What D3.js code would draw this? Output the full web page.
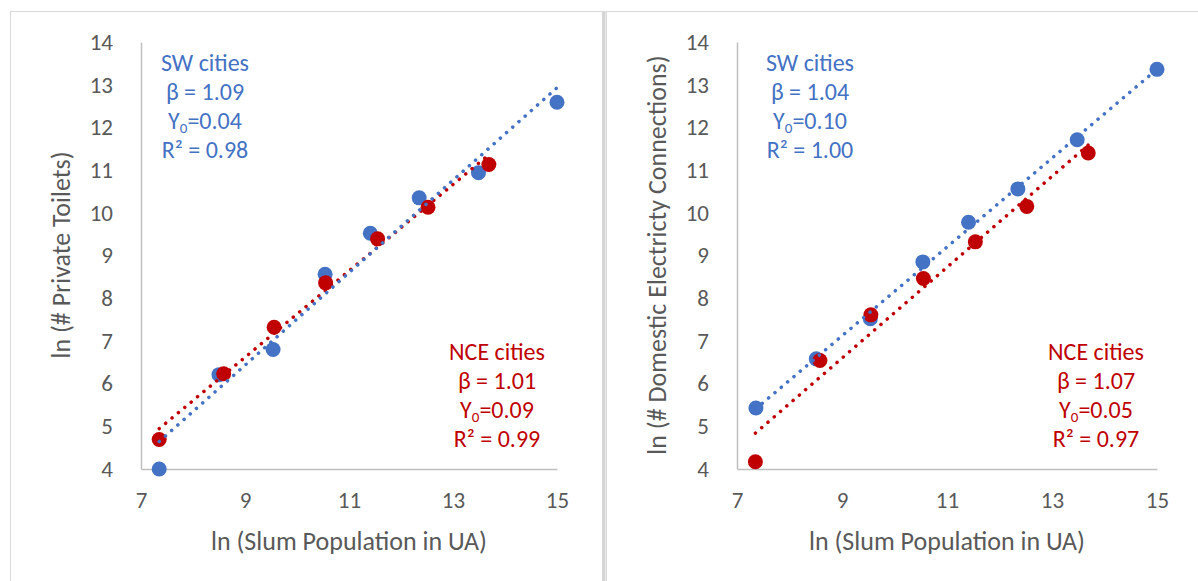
<!DOCTYPE html>
<html>
<head>
<meta charset="utf-8">
<script src="https://cdn.jsdelivr.net/npm/d3@7"></script>
<style>
  body { margin: 0; background: #fff; }
  text { font-family: Carlito, Calibri, Lato, sans-serif; }
</style>
</head>
<body>
<div id="chart"></div>
<script>
// Data (natural log values)
var xTicks = [7, 9, 11, 13, 15];
var yTicks = [4, 5, 6, 7, 8, 9, 10, 11, 12, 13, 14];

var toiletsSwX = [7.35, 8.50, 9.54, 10.54, 11.41, 12.35, 13.49, 15.0];
var toiletsSwY = [4.00, 6.21, 6.80, 8.56, 9.52, 10.35, 10.94, 12.59];
var toiletsNceX = [7.35, 8.59, 9.56, 10.55, 11.55, 12.52, 13.69];
var toiletsNceY = [4.69, 6.23, 7.32, 8.36, 9.39, 10.13, 11.13];

var elecSwX = [7.36, 8.51, 9.54, 10.54, 11.41, 12.35, 13.48, 15.0];
var elecSwY = [5.43, 6.58, 7.52, 8.85, 9.78, 10.56, 11.71, 13.36];
var elecNceX = [7.35, 8.58, 9.55, 10.55, 11.54, 12.52, 13.69];
var elecNceY = [4.17, 6.54, 7.61, 8.46, 9.32, 10.15, 11.40];

var toiletsSwStats = ["SW cities", "β = 1.09", "0.04", "R² = 0.98"];
var toiletsNceStats = ["NCE cities", "β = 1.01", "0.09", "R² = 0.99"];
var elecSwStats = ["SW cities", "β = 1.04", "0.10", "R² = 1.00"];
var elecNceStats = ["NCE cities", "β = 1.07", "0.05", "R² = 0.97"];

var blue = "#4472C4";
var red = "#C00000";
var grey = "#595959";

var svgWidth = 1198;
var svgHeight = 581;

var svg = d3.select("#chart")
  .append("svg")
  .attr("width", svgWidth)
  .attr("height", svgHeight);

svg.append("rect")
  .attr("width", svgWidth).attr("height", svgHeight)
  .attr("fill", "#fff");

// Panel frames
svg.append("rect")
  .attr("x", 10.5).attr("y", 11.5)
  .attr("width", 592).attr("height", 600)
  .attr("fill", "none").attr("stroke", "#d9d9d9");
svg.append("line")
  .attr("x1", 604).attr("x2", 604).attr("y1", 11).attr("y2", svgHeight)
  .attr("stroke", "#d4d4d4").attr("stroke-width", 3);
svg.append("rect")
  .attr("x", 606.5).attr("y", 11.5)
  .attr("width", 620).attr("height", 600)
  .attr("fill", "none").attr("stroke", "#d9d9d9");

function zip(xs, ys) {
  return xs.map(function(x, i) { return { x: x, y: ys[i] }; });
}

// least squares fit, as Excel's linear trendline
function fit(pts) {
  var mx = d3.mean(pts, d => d.x), my = d3.mean(pts, d => d.y);
  var sxy = d3.sum(pts, d => (d.x - mx) * (d.y - my));
  var sxx = d3.sum(pts, d => (d.x - mx) * (d.x - mx));
  var b = sxy / sxx, a = my - b * mx;
  var x0 = d3.min(pts, d => d.x), x1 = d3.max(pts, d => d.x);
  return [{ x: x0, y: a + b * x0 }, { x: x1, y: a + b * x1 }];
}

var panels = [
  {
    left: 141, right: 557, yTitle: "ln (# Private Toilets)", yTitleX: 62,
    sw: zip(toiletsSwX, toiletsSwY), nce: zip(toiletsNceX, toiletsNceY),
    swStats: toiletsSwStats, nceStats: toiletsNceStats, swX: 205, nceX: 497
  },
  {
    left: 737, right: 1157, yTitle: "ln (# Domestic Electricty Connections)", yTitleX: 658,
    sw: zip(elecSwX, elecSwY), nce: zip(elecNceX, elecNceY),
    swStats: elecSwStats, nceStats: elecNceStats, swX: 810, nceX: 1096
  }
];

var plotTop = 42, plotBottom = 469;

panels.forEach(function(p) {
  var xScale = d3.scaleLinear().domain([7, 15]).range([p.left, p.right]);
  var yScale = d3.scaleLinear().domain([4, 14]).range([plotBottom, plotTop]);

  var leftAxis = d3.axisLeft(yScale).tickValues(yTicks).tickSize(0).tickPadding(28);
  var bottomAxis = d3.axisBottom(xScale).tickValues(xTicks).tickSize(0).tickPadding(23);

  var gy = svg.append("g")
    .attr("transform", `translate(${p.left}, 0)`)
    .call(leftAxis);
  var gx = svg.append("g")
    .attr("transform", `translate(0, ${plotBottom})`)
    .call(bottomAxis);

  [gx, gy].forEach(function(g) {
    g.select(".domain").attr("stroke", "#bfbfbf").attr("stroke-width", 1.5);
    g.selectAll("text")
      .attr("fill", grey)
      .attr("font-size", 23)
      .attr("font-family", "Carlito, Calibri, Lato, sans-serif");
  });

  // Axis titles
  svg.append("text")
    .text("ln (Slum Population in UA)")
    .attr("x", (p.left + p.right) / 2)
    .attr("y", 550)
    .attr("text-anchor", "middle")
    .attr("font-size", 26)
    .attr("fill", grey);

  svg.append("text")
    .text(p.yTitle)
    .attr("transform", `translate(${p.yTitleX + 8}, 255) rotate(-90)`)
    .attr("text-anchor", "middle")
    .attr("font-size", 26)
    .attr("fill", grey);

  // Markers
  [[p.sw, blue], [p.nce, red]].forEach(function(s) {
    svg.append("g").selectAll("circle")
      .data(s[0])
      .enter()
      .append("circle")
      .attr("cx", d => xScale(d.x))
      .attr("cy", d => yScale(d.y))
      .attr("r", 7.5)
      .attr("fill", s[1]);
  });

  // Dotted trendlines
  var line = d3.line().x(d => xScale(d.x)).y(d => yScale(d.y));
  [[p.nce, red], [p.sw, blue]].forEach(function(s) {
    svg.append("path")
      .attr("d", line(fit(s[0])))
      .attr("fill", "none")
      .attr("stroke", s[1])
      .attr("stroke-width", 3.5)
      .attr("stroke-linecap", "round")
      .attr("stroke-dasharray", "0.1 8.2");
  });

  // Annotations
  function stats(lines, cx, y0, color) {
    lines.forEach(function(t, i) {
      var txt = svg.append("text")
        .attr("x", cx)
        .attr("y", y0 + i * 29)
        .attr("text-anchor", "middle")
        .attr("font-size", 24)
        .attr("fill", color);
      if (i === 2) {
        txt.append("tspan").text("Y");
        txt.append("tspan").text("0").attr("font-size", 15).attr("dy", 4);
        txt.append("tspan").text("=" + t).attr("dy", -4);
      } else {
        txt.text(t);
      }
    });
  }
  stats(p.swStats, p.swX, 71, blue);
  stats(p.nceStats, p.nceX, 360, red);
});
</script>
</body>
</html>
